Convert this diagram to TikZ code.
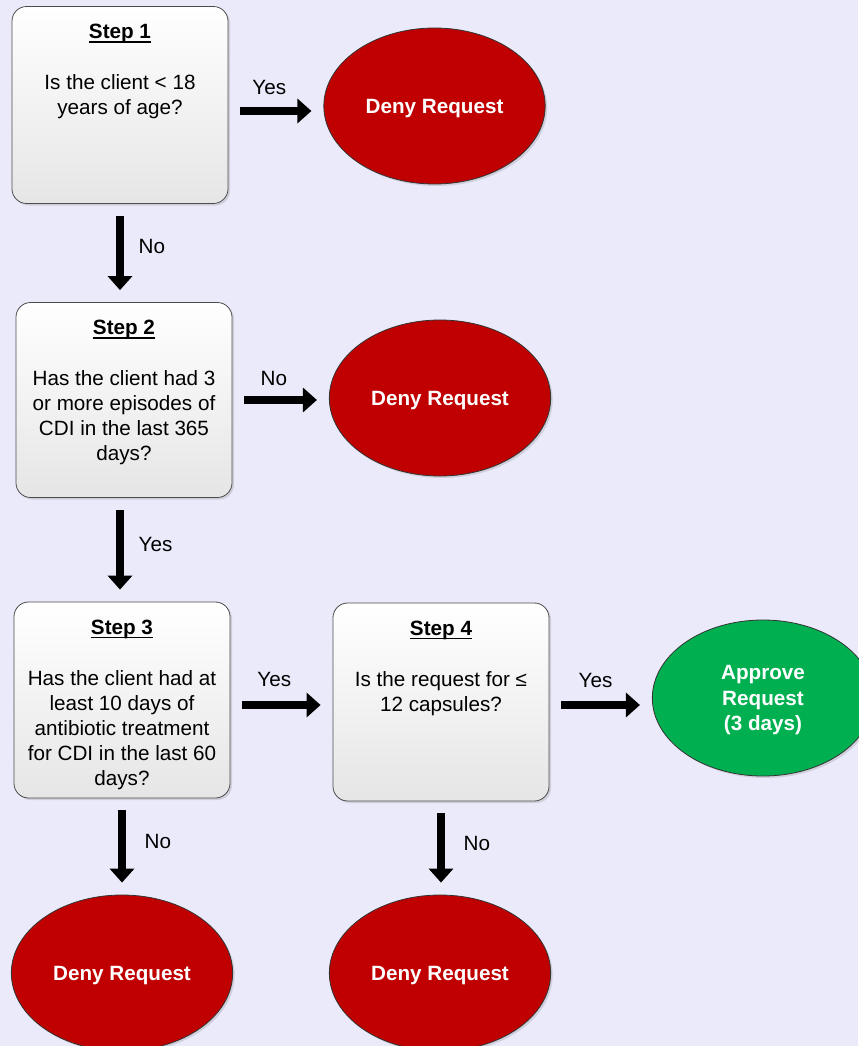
\documentclass[tikz,border=0pt]{standalone}
\usepackage{fontspec}
\setmainfont{Liberation Sans}
\usetikzlibrary{arrows.meta,calc,shapes.geometric,shadows}
\definecolor{bglavender}{RGB}{234,234,250}
\definecolor{denyred}{RGB}{192,0,0}
\definecolor{okgreen}{RGB}{0,176,80}
\def\stepline#1{\leavevmode\setbox0\hbox{#1}\rlap{\vrule width\wd0 height -1.6pt depth 3pt}\box0}
\def\stepcontent#1#2#3{\begin{minipage}[c][#1][t]{162pt}\centering\vspace*{13.5pt}\stepline{\textbf{#2}}\\[19.5pt]#3\end{minipage}}

\begin{document}
\begin{tikzpicture}[x=0.75pt, y=-0.75pt,
	every node/.style={font=\fontsize{15.5pt}{18.75pt}\selectfont},
	stepbox/.style={rectangle, rounded corners=11pt, draw=black!70, line width=0.6pt, top color=white, bottom color=black!10, inner sep=0pt, drop shadow={shadow xshift=1.5pt, shadow yshift=-1.5pt, opacity=0.25}},
	denynode/.style={ellipse, draw=black!80, line width=0.6pt, fill=denyred, text=white, inner sep=0pt, minimum width=166pt, minimum height=117pt, align=center, text depth=0pt, font=\fontsize{15.5pt}{19pt}\selectfont\bfseries, drop shadow={shadow xshift=1.5pt, shadow yshift=-1.5pt, opacity=0.25}},
	approvenode/.style={denynode, fill=okgreen},
	arrowline/.style={line width=6pt, -{Triangle[length=10.5pt, width=18pt]}, shorten <=9pt, shorten >=9pt},
	answer/.style={inner sep=2pt}]
		%%%%% START %%%%%
		\useasboundingbox (0,0) rectangle (858,1046);
		\fill[bglavender] (0,0) rectangle (858,1046);
		
		\node[stepbox] (s1) at (120,105) {\stepcontent{147.75pt}{Step 1}{Is the client < 18\\years of age?}};
		\node[stepbox] (s2) at (124,400) {\stepcontent{146.25pt}{Step 2}{Has the client had 3\\or more episodes of\\CDI in the last 365\\days?}};
		\node[stepbox] (s3) at (122,700) {\stepcontent{147pt}{Step 3}{Has the client had at\\least 10 days of\\antibiotic treatment\\for CDI in the last 60\\days?}};
		\node[stepbox] (s4) at (441,702) {\stepcontent{148.5pt}{Step 4}{Is the request for ≤\\12 capsules?}};
		
		\node[denynode] (deny1) at (434.5,106) {Deny Request};
		\node[denynode] (deny2) at (440,398) {Deny Request};
		\node[denynode] (deny3) at (122,973) {Deny Request};
		\node[denynode] (deny4) at (440,973) {Deny Request};
		\node[approvenode] (approve) at (763,698) {Approve\\Request\\(3 days)};
		
		% across
		\draw[arrowline] ($(s1.east)+(0,6)$) -- node[answer, above=7pt, pos=0.43] {Yes} ($(s1.east -| deny1.west)+(0,6)$);
		\draw[arrowline] (s2.east) -- node[answer, above=6pt, pos=0.43] {No} (s2.east -| deny2.west);
		\draw[arrowline] ($(s3.east)+(0,5)$) -- node[answer, above=9pt, pos=0.43] {Yes} ($(s3.east -| s4.west)+(0,5)$);
		\draw[arrowline] ($(s4.east)+(0,3)$) -- node[answer, above=8pt, pos=0.45] {Yes} ($(s4.east -| approve.west)+(0,3)$);
		
		% down
		\draw[arrowline] (s1.south) -- node[answer, right=9pt, pos=0.43] {No} (s1.south |- s2.north);
		\draw[arrowline] ($(s2.south)+(-4,0)$) -- node[answer, right=9pt, pos=0.45] {Yes} ($(s2.south |- s3.north)+(-4,0)$);
		\draw[arrowline] (s3.south) -- node[answer, right=12pt, pos=0.45] {No} (s3.south |- deny3.north);
		\draw[arrowline] (s4.south) -- node[answer, right=12pt, pos=0.45] {No} (s4.south |- deny4.north);
		%%%%% END %%%%%
\end{tikzpicture}
\end{document}
